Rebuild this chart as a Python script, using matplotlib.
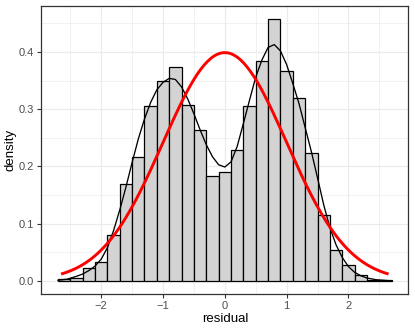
import numpy as np
import matplotlib
matplotlib.use("Agg")
import matplotlib.pyplot as plt
from matplotlib.ticker import MultipleLocator

plt.rcParams['font.family'] = ['Liberation Sans', 'DejaVu Sans']

# histogram, binwidth 0.2 from -2.7 to 2.7
bin_left = np.round(np.arange(-2.7, 2.6, 0.2), 1)
bin_width = 0.2
hist_density = [0.004, 0.005, 0.023, 0.033, 0.080, 0.170, 0.217, 0.306, 0.349,
                0.374, 0.308, 0.263, 0.184, 0.190, 0.228, 0.305, 0.385, 0.457,
                0.367, 0.319, 0.223, 0.115, 0.054, 0.027, 0.011, 0.002, 0.002]

# kernel density
kde_x = [-2.70, -2.55, -2.40, -2.30, -2.20, -2.10, -2.00, -1.90, -1.80, -1.70,
         -1.60, -1.50, -1.40, -1.30, -1.20, -1.10, -1.00, -0.90, -0.80, -0.70,
         -0.60, -0.50, -0.40, -0.30, -0.20, -0.10, 0.00, 0.10, 0.20, 0.30,
         0.40, 0.50, 0.60, 0.70, 0.80, 0.90, 1.00, 1.10, 1.20, 1.30,
         1.40, 1.50, 1.60, 1.70, 1.80, 1.90, 2.00, 2.10, 2.20, 2.30,
         2.45, 2.70]
kde_y = [0.001, 0.003, 0.008, 0.012, 0.018, 0.026, 0.038, 0.058, 0.088, 0.124,
         0.164, 0.207, 0.248, 0.283, 0.312, 0.334, 0.347, 0.354, 0.352, 0.339,
         0.318, 0.292, 0.264, 0.238, 0.217, 0.203, 0.199, 0.208, 0.235, 0.275,
         0.316, 0.356, 0.386, 0.408, 0.413, 0.402, 0.378, 0.345, 0.310, 0.268,
         0.226, 0.180, 0.133, 0.093, 0.063, 0.041, 0.025, 0.015, 0.009, 0.005,
         0.002, 0.000]

# reference normal curve
norm_mean, norm_sd = 0.0, 1.0
norm_range = (-2.65, 2.65)

fig = plt.figure(figsize=(4.15, 3.32), dpi=100)
ax = fig.add_axes([0.0995, 0.1145, 0.8845, 0.8665])

ax.bar(bin_left, hist_density, width=bin_width, align="edge",
       color="#d3d3d3", edgecolor="black", linewidth=0.9, zorder=2)
ax.plot(kde_x, kde_y, color="black", lw=0.95, zorder=3)

nx = np.linspace(norm_range[0], norm_range[1], 200)
ny = np.exp(-0.5 * ((nx - norm_mean) / norm_sd) ** 2) / (norm_sd * np.sqrt(2 * np.pi))
ax.plot(nx, ny, color="red", lw=2.1, zorder=4, solid_capstyle="butt")

ax.set_xlim(-2.97, 2.97)
ax.set_ylim(-0.0229, 0.4799)
ax.xaxis.set_major_locator(MultipleLocator(1))
ax.xaxis.set_minor_locator(MultipleLocator(0.5))
ax.yaxis.set_major_locator(MultipleLocator(0.1))
ax.yaxis.set_minor_locator(MultipleLocator(0.05))
ax.set_xticks([-2, -1, 0, 1, 2])
ax.set_xticklabels(["\u22122", "\u22121", "0", "1", "2"])

ax.grid(which="major", color="#ebebeb", lw=0.9, zorder=0)
ax.grid(which="minor", color="#ebebeb", lw=0.5, zorder=0)
ax.set_axisbelow(True)

for s in ax.spines.values():
    s.set_color("#333333")
    s.set_linewidth(0.9)
ax.tick_params(which="major", length=3, width=0.8, color="#333333",
               labelsize=8, labelcolor="#4d4d4d", pad=2)
ax.tick_params(which="minor", length=0)

ax.set_xlabel("residual", fontsize=9.5, labelpad=1.5)
ax.set_ylabel("density", fontsize=9.5, labelpad=1.5)

fig.savefig("out.png", dpi=100)
